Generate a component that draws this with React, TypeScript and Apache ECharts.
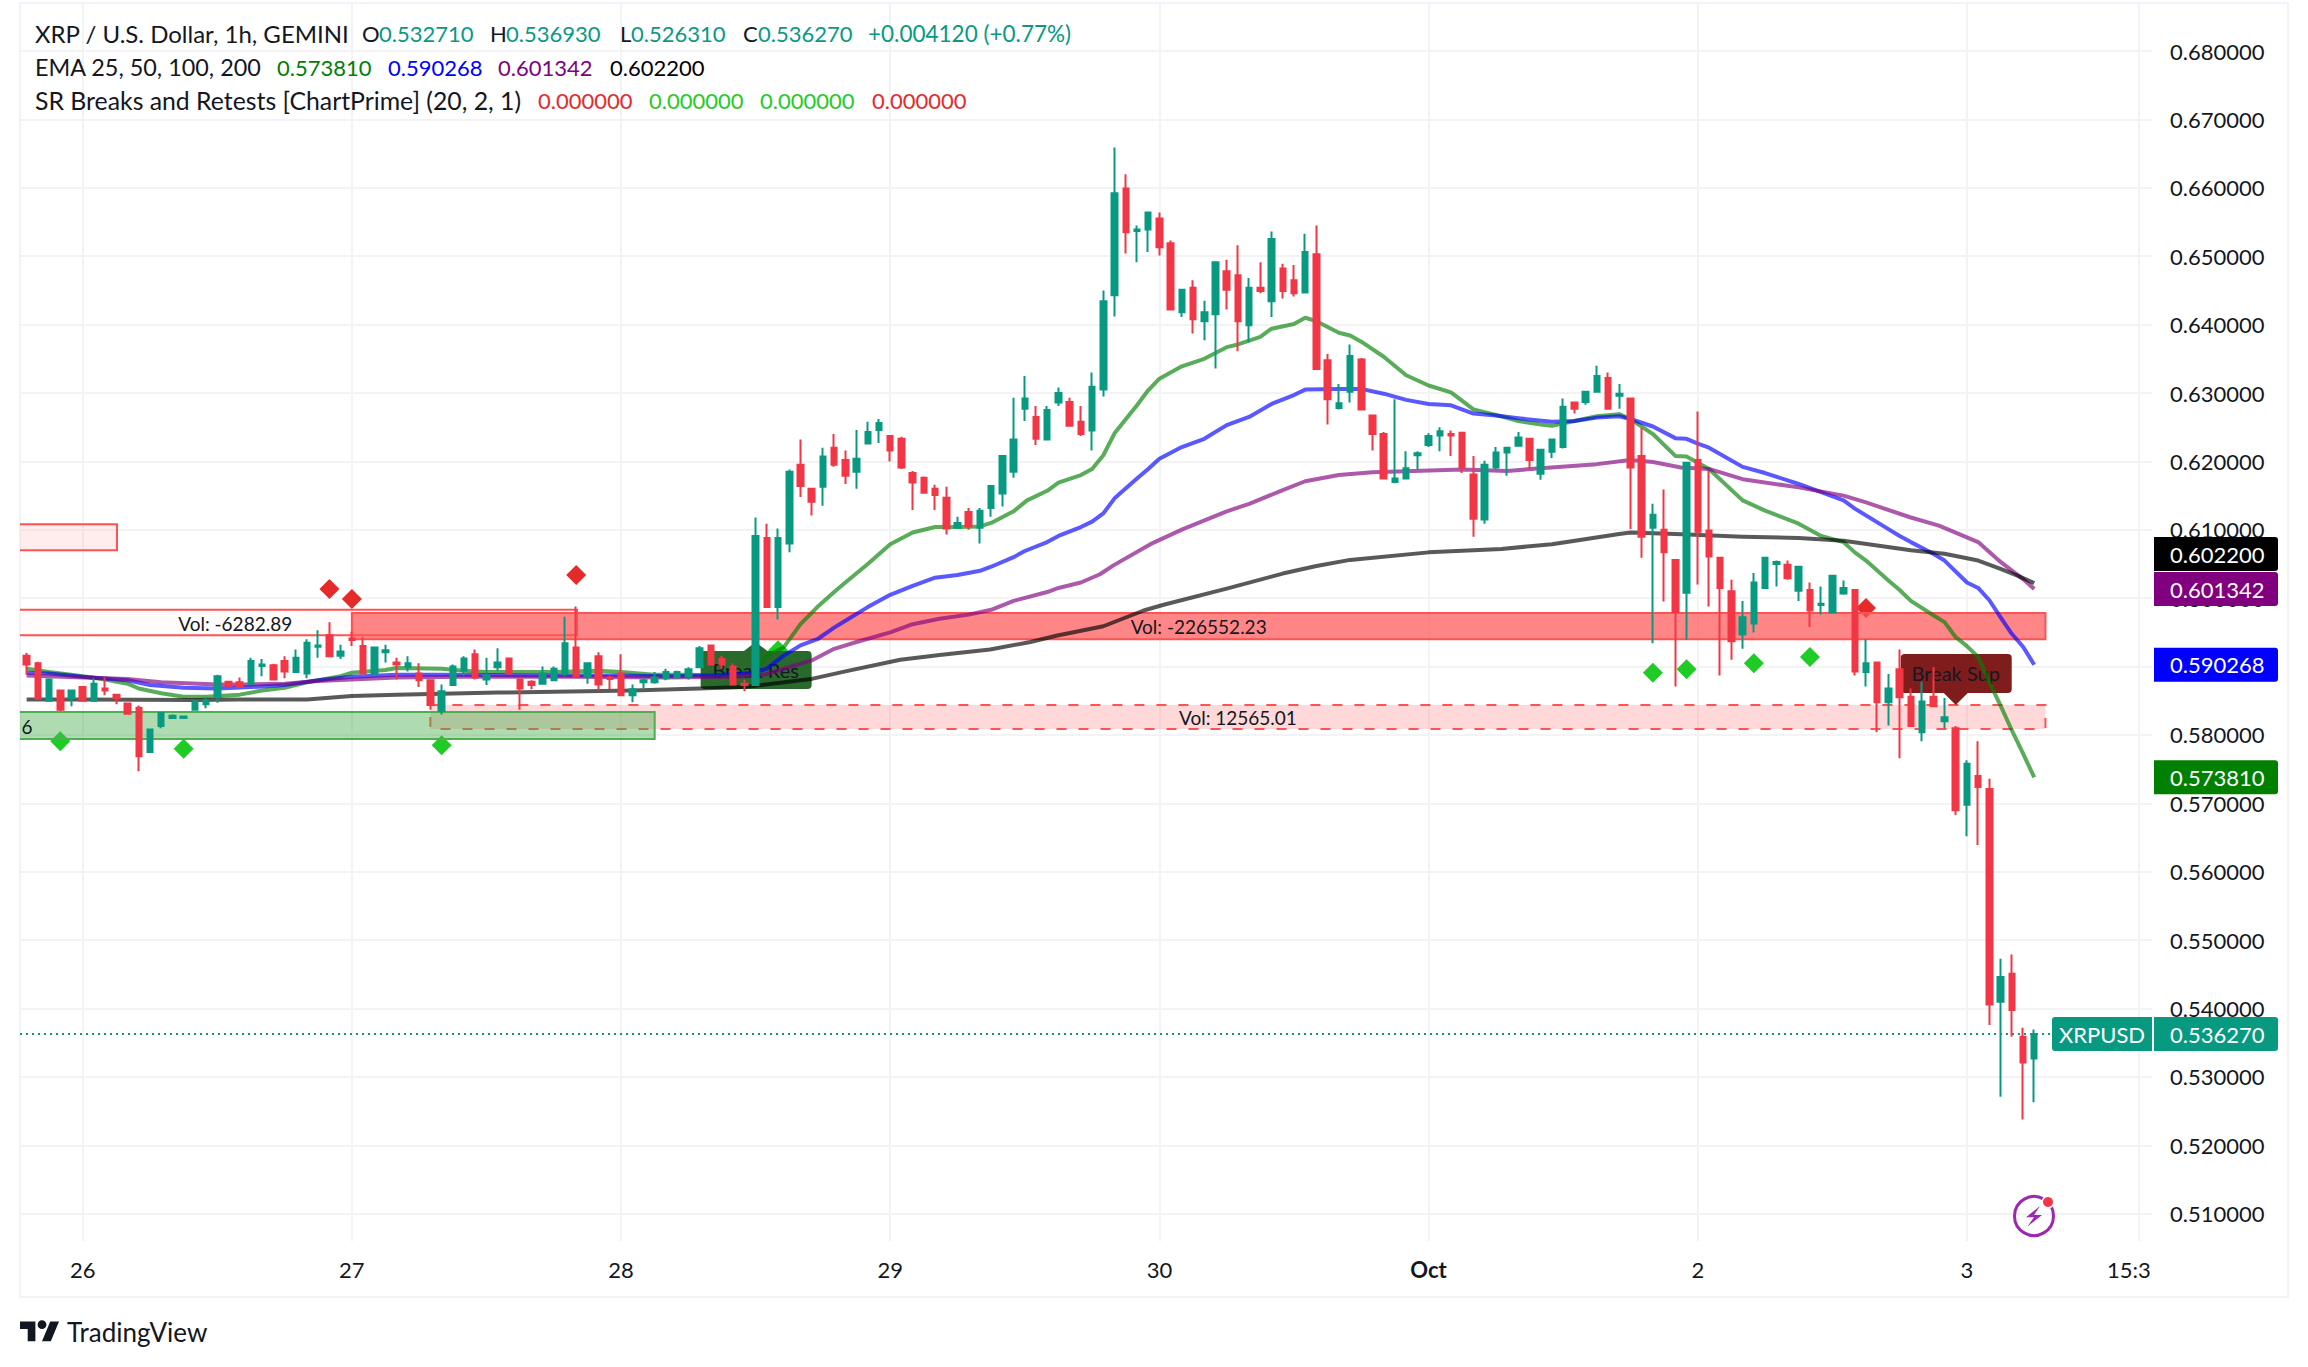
import React, { useEffect, useRef } from "react";
import * as echarts from "echarts";

const FONT = "Lato";
const INK = "#131722";
const UP = "#089981";
const DOWN = "#F23645";

const firstHour = -5;
const directions =
  "RRGRGRGRRR" + "RGGGGGGGRR" + "GGRRGGGRGR" + "RGGRGRRGGG" + "RGGRRRGGGR" + "GRRRGGGGGG" +
  "GRRRRGRGGR" + "RGRRGGGRRR" + "RRRGRGGGGG" + "RGGRRGGGRG" + "GRRGRGGRRG" + "RGRRGRRGGR" +
  "RRGGGGGRRR" + "GGGGRGGGRG" + "GRGRRGRRGR" + "RRRGGGGRGR" + "GGGRGRGRRG" + "RGRGRRGRRG";

const highs = [
  .5920,.5907,.5883,.5865,.5865,.5871,.5883,.5884,.5859,.5847,
  .5843,.5808,.5832,.5830,.5827,.5849,.5855,.5888,.5878,.5884,
  .5913,.5911,.5904,.5915,.5925,.5940,.5953,.5965,.5932,.5951,
  .5943,.5928,.5932,.5913,.5915,.5905,.5880,.5874,.5903,.5915,
  .5925,.5913,.5927,.5912,.5881,.5880,.5900,.5900,.5973,.5988,
  .5906,.5921,.5887,.5918,.5874,.5884,.5892,.5897,.5894,.5899,
  .5930,.5931,.5916,.5905,.5881,.6118,.6109,.6102,.6188,.6232,
  .6160,.6220,.6240,.6216,.6246,.6258,.6262,.6237,.6236,.6186,
  .6178,.6166,.6163,.6119,.6132,.6132,.6164,.6208,.6293,.6325,
  .6281,.6281,.6308,.6293,.6281,.6330,.6450,.6659,.6620,.6545,
  .6564,.6564,.6523,.6451,.6465,.6435,.6491,.6495,.6516,.6468,
  .6491,.6536,.6489,.6487,.6533,.6545,.6357,.6313,.6371,.6351,
  .6267,.6243,.6291,.6215,.6215,.6241,.6250,.6245,.6242,.6208,
  .6201,.6221,.6220,.6243,.6233,.6217,.6232,.6292,.6286,.6302,
  .6340,.6330,.6313,.6292,.6249,.6138,.6159,.6056,.6198,.6273,
  .6186,.6059,.6027,.5996,.6037,.6059,.6055,.6055,.6046,.6023,
  .6017,.6033,.6026,.6012,.5940,.5906,.5889,.5925,.5868,.5878,
  .5899,.5854,.5813,.5763,.5791,.5736,.5473,.5479,.5372,.53693,
];
const bodyTops = [
  .5916,.5905,.5881,.5865,.5865,.5870,.5875,.5868,.5859,.5846,
  .5840,.5808,.5832,.5828,.5827,.5849,.5850,.5886,.5878,.5877,
  .5908,.5903,.5902,.5908,.5913,.5935,.5931,.5946,.5922,.5941,
  .5930,.5928,.5924,.5906,.5905,.5890,.5880,.5864,.5900,.5912,
  .5918,.5887,.5906,.5912,.5881,.5878,.5890,.5897,.5934,.5928,
  .5905,.5915,.5884,.5890,.5867,.5880,.5884,.5892,.5892,.5896,
  .5927,.5931,.5911,.5900,.5875,.6091,.6088,.6088,.6185,.6195,
  .6160,.6207,.6220,.6202,.6204,.6243,.6256,.6237,.6233,.6183,
  .6176,.6160,.6147,.6110,.6126,.6128,.6164,.6208,.6232,.6292,
  .6265,.6275,.6300,.6287,.6258,.6309,.6434,.6592,.6599,.6539,
  .6564,.6555,.6519,.6451,.6454,.6418,.6491,.6478,.6472,.6454,
  .6454,.6525,.6482,.6465,.6506,.6503,.6348,.6285,.6354,.6349,
  .6267,.6240,.6175,.6190,.6212,.6237,.6244,.6240,.6242,.6181,
  .6195,.6213,.6220,.6235,.6233,.6217,.6232,.6280,.6286,.6302,
  .6325,.6322,.6299,.6292,.6208,.6122,.6100,.6056,.6198,.6202,
  .6099,.6059,.6010,.5972,.6023,.6059,.6053,.6049,.6046,.6012,
  .5992,.6033,.6015,.6012,.5905,.5906,.5868,.5896,.5856,.5849,
  .5856,.5826,.5810,.5758,.5740,.5721,.5446,.5451,.5359,.53627,
];
const bodyBottoms = [
  .5903,.5853,.5850,.5837,.5854,.5850,.5850,.5865,.5854,.5831,
  .5769,.5775,.5813,.5825,.5825,.5837,.5845,.5856,.5872,.5870,
  .5875,.5901,.5881,.5893,.5892,.5890,.5929,.5915,.5916,.5939,
  .5890,.5890,.5921,.5903,.5899,.5880,.5844,.5835,.5873,.5894,
  .5884,.5881,.5899,.5890,.5868,.5873,.5875,.5880,.5889,.5886,
  .5886,.5874,.5882,.5858,.5858,.5877,.5877,.5883,.5884,.5886,
  .5899,.5903,.5903,.5874,.5873,.5873,.5987,.5987,.6080,.6164,
  .6141,.6163,.6195,.6179,.6185,.6226,.6246,.6216,.6191,.6169,
  .6154,.6151,.6102,.6103,.6105,.6103,.6132,.6153,.6185,.6277,
  .6233,.6232,.6286,.6252,.6240,.6245,.6305,.6443,.6535,.6537,
  .6539,.6513,.6422,.6418,.6408,.6405,.6415,.6451,.6405,.6399,
  .6449,.6434,.6449,.6446,.6447,.6335,.6291,.6278,.6302,.6276,
  .6240,.6175,.6170,.6175,.6209,.6224,.6238,.6238,.6191,.6116,
  .6115,.6191,.6213,.6223,.6202,.6182,.6214,.6221,.6277,.6287,
  .6302,.6277,.6296,.6191,.6090,.6103,.6067,.5980,.6008,.6097,
  .6061,.6015,.5937,.5947,.5963,.6015,.6050,.6029,.6011,.5982,
  .5990,.5979,.6007,.5893,.5892,.5848,.5848,.5855,.5813,.5804,
  .5842,.5820,.5690,.5698,.5724,.5406,.5410,.5398,.5321,.53271,
];
const lows = [
  .5888,.5853,.5850,.5835,.5842,.5850,.5850,.5858,.5845,.5831,
  .5747,.5774,.5810,.5824,.5825,.5837,.5839,.5847,.5872,.5870,
  .5875,.5886,.5881,.5883,.5892,.5883,.5913,.5915,.5911,.5930,
  .5890,.5888,.5906,.5881,.5893,.5870,.5837,.5830,.5873,.5887,
  .5881,.5873,.5894,.5889,.5837,.5867,.5875,.5880,.5886,.5886,
  .5875,.5865,.5867,.5858,.5848,.5868,.5875,.5880,.5884,.5881,
  .5899,.5903,.5897,.5874,.5864,.5873,.5987,.5969,.6067,.6148,
  .6121,.6135,.6192,.6167,.6160,.6226,.6227,.6200,.6189,.6129,
  .6154,.6129,.6093,.6102,.6100,.6080,.6119,.6134,.6176,.6259,
  .6224,.6232,.6281,.6252,.6237,.6216,.6295,.6412,.6504,.6491,
  .6506,.6501,.6422,.6411,.6387,.6377,.6336,.6422,.6361,.6374,
  .6446,.6411,.6438,.6441,.6447,.6335,.6254,.6276,.6286,.6276,
  .6216,.6175,.6168,.6175,.6188,.6221,.6215,.6208,.6183,.6090,
  .6109,.6188,.6179,.6223,.6188,.6173,.6205,.6219,.6270,.6283,
  .6302,.6277,.6277,.6101,.6059,.5934,.5995,.5871,.5939,.6020,
  .5988,.5887,.5910,.5926,.5950,.6015,.6017,.6027,.5996,.5958,
  .5976,.5979,.6005,.5887,.5871,.5804,.5814,.5766,.5813,.5791,
  .5842,.5810,.5683,.5652,.5639,.5376,.5271,.5359,.5238,.52631,
];

const ema25Hours = [-5,-3,0,2,4,5,7,9,11,14,16,18,20,23,24,27,28,32,34,36,42,46,48,51,54,57,59,60,61,62.5,64,65.5,67,68,70,72,74,76,78.2,80,81,83,84.2,86,87,89,90,91,92,94,95,96,98,100,102,103,105,106,108,109,110,112,113,114,116,118,120,122,124,126,128,130,131,133,135,137,138,140,142,143,145,148,150,153,155,157,158,159,161,162,163,165,166,167,168,169,170,171,172,173,174];
const ema25Values = [.5897,.5892,.5886,.5881,.5875,.5868,.5861,.5856,.5856,.5859,.5865,.5869,.5877,.5886,.5891,.5895,.5898,.5897,.5894,.5892,.5892,.5894,.5892,.5888,.5888,.5887,.5887,.5893,.5916,.5928,.5962,.5987,.6009,.6023,.6050,.6079,.6096,.6104,.6104,.6105,.6110,.6127,.6143,.6157,.6169,.6180,.6189,.6209,.6241,.6282,.6304,.6321,.6339,.6350,.6367,.6371,.6382,.6394,.6401,.6410,.6405,.6388,.6384,.6375,.6353,.6326,.6311,.6301,.6276,.6268,.6259,.6254,.6252,.6259,.6266,.6269,.6262,.6240,.6208,.6207,.6189,.6143,.6128,.6109,.6091,.6082,.6067,.6055,.6026,.6012,.5996,.5975,.5965,.5943,.5930,.5914,.5877,.5843,.5807,.5773,.57381];

const ema50Hours = [-5,-3,0,4,6,9,12,15,18,21,24,28,32,40,48,52,56,59,60,61,62.5,64,65.5,67,68,70,72,74,76,78,80,81,83,84,86,87,89,90,91,92,94,95,96,98,100,102,104,106,108,109,112,114,116,118,120,122,124,126,128,131,133,135,137,138,140,142,143,144,145,148,150,153,155,157,158,161,162,163,165,166,168,169,170,171,172,173,174];
const ema50Values = [.5891,.5890,.5885,.5880,.5873,.5869,.5868,.5870,.5873,.5880,.5885,.5888,.5888,.5887,.5887,.5886,.5887,.5890,.5892,.5897,.5916,.5931,.5940,.5957,.5967,.5987,.6005,.6018,.6030,.6034,.6040,.6046,.6060,.6069,.6082,.6091,.6104,.6112,.6124,.6146,.6175,.6189,.6204,.6221,.6233,.6253,.6265,.6284,.6297,.6305,.6306,.6306,.6299,.6290,.6284,.6282,.6270,.6267,.6263,.6258,.6259,.6264,.6266,.6262,.6251,.6234,.6233,.6226,.6220,.6192,.6183,.6167,.6155,.6143,.6131,.6101,.6091,.6082,.6065,.6055,.6023,.6015,.5997,.5972,.5948,.5929,.590268];

const ema100Hours = [-5,0,4,7,12,15,18,21,24,28,34,44,52,58,60,61,62.5,65,67,69,72,74,76.4,79,81,83,86,87,89,90.7,91.9,95.2,98.1,102,104,107,109,112,115,123,127,130,135,138,140,142.5,145,148,153,157,159,163,165.5,169,171,173,174];
const ema100Values = [.5887,.5884,.5882,.5877,.5874,.5874,.5875,.5879,.5881,.5884,.5885,.5885,.5884,.5885,.5887,.5889,.5897,.5909,.5926,.5936,.5950,.5962,.5970,.5976,.5983,.5996,.6009,.6015,.6023,.6035,.6048,.6079,.6101,.6127,.6138,.6158,.6171,.6180,.6184,.6188,.6186,.6190,.6196,.6202,.6199,.6191,.6189,.6174,.6162,.6150,.6140,.6118,.6106,.6082,.6053,.6028,.601342];

const ema200Hours = [-5,0,10,14,20,24,28,37,49,55,59,64,65,68,72.9,76.4,80.9,84.5,86.8,91,94.6,96.3,102,107,110,113,120,126.5,131,137,138,142,148,153,157,163,166,169,171,172.5,174];
const ema200Values = [.5852,.5852,.5851,.5852,.5852,.5857,.5859,.5862,.5865,.5868,.5870,.5880,.5882,.5893,.5910,.5917,.5925,.5936,.5945,.5959,.5982,.5990,.6014,.6036,.6047,.6056,.6067,.6072,.6079,.6094,.6096,.6094,.6090,.6088,.6084,.6070,.6065,.6055,.6043,.6033,.6022];

const redDiamondHours = [22, 24, 44, 159];
const redDiamondPrices = [.60135, .5999, .60339, .59857];
const greenDiamondHours = [-2, 9, 32, 62, 140, 143, 149, 154];
const greenDiamondPrices = [.5791, .5780, .5785, .5924, .5891, .5896, .5905, .5914];

const zoneStarts = [-20, -20, 24, 31, -20];
const zoneEnds = [3.06, 44.07, 175, 175, 51];
const zoneTops = [.6108, .5983, .59784, .58439, .58336];
const zoneBottoms = [.6070, .5946, .5940, .58088, .5794];
const zoneFills = ["rgba(255,82,82,0.1)", "rgba(255,245,240,0.25)", "rgba(255,82,82,0.7)", "rgba(255,82,82,0.22)", "rgba(76,175,80,0.45)"];
const zoneStrokes = ["#ff5252", "#ff5252", "#ff5252", "#ff5252", "#4caf50"];
const zoneDashed = [false, false, false, true, false];

const noteTexts = ["Vol: -6282.89", "Vol: -226552.23", "Vol: 12565.01", "6"];
const noteHours = [13.6, 99.5, 103, -4.97];
const notePrices = [.59637, .59579, .58263, .5812];

const breakTexts = ["Break Res", "Break Sup"];
const breakHours = [60, 167];
const breakPrices = [.5936, .58439];
const breakColors = ["#2a692c", "#7f1d1d"];

const priceTagTexts = ["0.602200", "0.601342", "0.590268", "0.573810", "0.536270"];
const priceTagPositions = [.60646, .601342, .590268, .57381, .53627];
const priceTagColors = ["#000000", "#800080", "#0000ff", "#008000", UP];
const lastPrice = 0.53627;

const priceTicks = [.51,.52,.53,.54,.55,.56,.57,.58,.59,.60,.61,.62,.63,.64,.65,.66,.67,.68];
const timeTickHours = [0, 24, 48, 72, 96, 120, 144, 168, 183.3];
const timeTickLabels = ["26", "27", "28", "29", "30", "{b|Oct}", "2", "3", ""];

const legendRows: [string, number, number, string, number][] = [
  ["XRP / U.S. Dollar, 1h, GEMINI", 35, 33.5, INK, 24],
  ["O", 362, 33.5, INK, 22], ["0.532710", 379, 33.5, UP, 22],
  ["H", 490, 33.5, INK, 22], ["0.536930", 506, 33.5, UP, 22],
  ["L", 620, 33.5, INK, 22], ["0.526310", 631, 33.5, UP, 22],
  ["C", 743, 33.5, INK, 22], ["0.536270", 758, 33.5, UP, 22],
  ["+0.004120 (+0.77%)", 868, 33.5, UP, 22.5],
  ["EMA 25, 50, 100, 200", 35, 67, INK, 23.4],
  ["0.573810", 277, 67, "#008000", 22], ["0.590268", 388, 67, "#0000ff", 22],
  ["0.601342", 498, 67, "#800080", 22], ["0.602200", 610, 67, "#000000", 22],
  ["SR Breaks and Retests [ChartPrime] (20, 2, 1)", 35, 100.5, INK, 24.8],
  ["0.000000", 538, 100.5, "#e52a2a", 22], ["0.000000", 649, 100.5, "#1fcc26", 22],
  ["0.000000", 760, 100.5, "#1fcc26", 22], ["0.000000", 872, 100.5, "#e52a2a", 22],
];

const logoPath =
  "M14 22H7V11H0V4h14v18zM28 22h-8l7.5-18h8L28 22zM16 7a4 4 0 1 0 8 0a4 4 0 1 0 -8 0z";
echarts.graphic.registerShape("tvlogo", echarts.graphic.extendPath(logoPath as any, {}) as any);

const xMin = -5.59;
const xMax = 184.5;
const yMin = 0.50602;
const yMax = 0.68702;

const zip2 = (a: number[], b: number[]) => a.map((v, i) => [v, b[i]]);

function buildOption(): any {
  const candles = highs.map((hi, i) => {
    const up = directions[i] === "G";
    return [firstHour + i, up ? bodyBottoms[i] : bodyTops[i], up ? bodyTops[i] : bodyBottoms[i], lows[i], hi];
  });
  const emaLine = (name: string, hours: number[], values: number[], color: string) => ({
    type: "line", name, data: zip2(hours, values), showSymbol: false, z: 4, silent: true,
    lineStyle: { color, width: 4, opacity: 0.65, join: "round" }, itemStyle: { color },
  });
  return {
    animation: false,
    backgroundColor: "#ffffff",
    grid: { left: 20, right: 156, top: 3, bottom: 126 },
    xAxis: {
      type: "value", min: xMin, max: xMax,
      axisLine: { show: false },
      axisTick: { show: false, customValues: timeTickHours },
      splitLine: { show: true, lineStyle: { color: "#f3f3f5", width: 2 } },
      axisLabel: {
        customValues: timeTickHours, color: INK, fontFamily: FONT, fontSize: 22, margin: 17,
        showMinLabel: true, showMaxLabel: true, hideOverlap: false,
        formatter: (v: number) => timeTickLabels[timeTickHours.indexOf(v)] ?? "",
        rich: { b: { fontWeight: "bold", fontFamily: FONT, fontSize: 22, color: INK } },
      },
    },
    yAxis: {
      type: "value", position: "right", min: yMin, max: yMax, scale: true,
      axisLine: { show: false },
      axisTick: { show: false, customValues: priceTicks },
      splitLine: { show: true, lineStyle: { color: "#f3f3f5", width: 2 } },
      axisLabel: {
        customValues: priceTicks, color: INK, fontFamily: FONT, fontSize: 22, margin: 18,
        padding: [0, 0, 2, 0],
        formatter: (v: number) => v.toFixed(6),
      },
    },
    graphic: [
      { type: "rect", z: 0, shape: { x: 20, y: 3, width: 2268, height: 1294 }, style: { fill: "none", stroke: "#f0f3fa", lineWidth: 2 } },
      ...legendRows.map(([text, x, y, fill, size]) => ({
        type: "text", z: 10, style: { text, x, y, fill, font: `${size}px ${FONT}`, verticalAlign: "middle", align: "left" },
      })),
      { type: "text", z: 10, style: { text: "15:3", x: 2107, y: 1269, fill: INK, font: `22px ${FONT}`, verticalAlign: "middle", align: "left" } },
      { type: "tvlogo", z: 10, x: 20, y: 1317, scaleX: 1.1, scaleY: 1.1, style: { fill: INK } },
      { type: "text", z: 10, style: { text: "TradingView", x: 67, y: 1332, fill: INK, font: `26px ${FONT}`, verticalAlign: "middle", align: "left" } },
      { type: "circle", z: 10, shape: { cx: 2034, cy: 1216, r: 19.5 }, style: { fill: "none", stroke: "#9c27b0", lineWidth: 3 } },
      { type: "circle", z: 11, shape: { cx: 2048, cy: 1202, r: 6.5 }, style: { fill: "#ffffff" } },
      { type: "circle", z: 12, shape: { cx: 2048, cy: 1202, r: 5 }, style: { fill: DOWN } },
      { type: "polygon", z: 11, shape: { points: [[2040, 1206], [2026, 1217.3], [2034, 1217.3], [2027.3, 1226.7], [2042, 1215], [2034, 1215]] }, style: { fill: "#9c27b0" } },
    ],
    series: [
      {
        type: "scatter", name: "Red markers", z: 1, symbol: "diamond", symbolSize: 20, silent: true,
        itemStyle: { color: "#e52a2a", opacity: 1 }, data: zip2(redDiamondHours, redDiamondPrices),
      },
      {
        type: "scatter", name: "Green markers", z: 1, symbol: "diamond", symbolSize: 20, silent: true,
        itemStyle: { color: "#1fcc26", opacity: 1 }, data: zip2(greenDiamondHours, greenDiamondPrices),
      },
      {
        type: "custom", name: "Zones", z: 2, clip: true, silent: true,
        encode: { x: [0, 1], y: [2, 3] },
        data: zoneStarts.map((s, i) => [s, zoneEnds[i], zoneTops[i], zoneBottoms[i]]),
        renderItem: (params: any, api: any) => {
          const a = api.coord([api.value(0), api.value(2)]);
          const b = api.coord([api.value(1), api.value(3)]);
          const i = params.dataIndex;
          return {
            type: "rect",
            shape: { x: a[0], y: a[1], width: b[0] - a[0], height: b[1] - a[1] },
            style: {
              fill: zoneFills[i], stroke: zoneStrokes[i], lineWidth: 2,
              lineDash: zoneDashed[i] ? [10, 12] : undefined,
            },
          };
        },
      },
      {
        type: "custom", name: "Break labels", z: 3, silent: true,
        encode: { x: 0, y: 1 },
        data: zip2(breakHours, breakPrices),
        renderItem: (params: any, api: any) => {
          const [x, y] = api.coord([api.value(0), api.value(1)]);
          const i = params.dataIndex;
          const up = i === 0;
          const boxY = up ? y + 9 : y - 51;
          const boxH = up ? 38 : 39;
          const baseY = up ? y + 10 : y - 13;
          return {
            type: "group",
            children: [
              { type: "rect", shape: { x: x - 55, y: boxY, width: 111, height: boxH, r: 4 }, style: { fill: breakColors[i] } },
              { type: "polygon", shape: { points: [[x, y], [x - 13, baseY], [x + 13, baseY]] }, style: { fill: breakColors[i] } },
              { type: "text", style: { text: breakTexts[i], x, y: boxY + boxH / 2, fill: INK, font: `20px ${FONT}`, align: "center", verticalAlign: "middle" } },
            ],
          };
        },
      },
      {
        type: "custom", name: "Volume notes", z: 3, silent: true,
        encode: { x: 0, y: 1 },
        data: zip2(noteHours, notePrices),
        renderItem: (params: any, api: any) => {
          const [x, y] = api.coord([api.value(0), api.value(1)]);
          return {
            type: "text",
            style: { text: noteTexts[params.dataIndex], x, y, fill: INK, font: `19px ${FONT}`, align: "center", verticalAlign: "middle" },
          };
        },
      },
      emaLine("EMA 25", ema25Hours, ema25Values, "#008000"),
      emaLine("EMA 50", ema50Hours, ema50Values, "#0000ff"),
      emaLine("EMA 100", ema100Hours, ema100Values, "#800080"),
      emaLine("EMA 200", ema200Hours, ema200Values, "#000000"),
      {
        type: "line", name: "Last price", z: 4, showSymbol: false, silent: true,
        data: [[xMin, lastPrice], [175.6, lastPrice]],
        lineStyle: { color: UP, width: 2, type: [2, 4] },
      },
      {
        type: "candlestick", name: "XRPUSD", z: 5, barWidth: 6, silent: true,
        data: candles,
        itemStyle: { color: UP, color0: DOWN, borderColor: UP, borderColor0: DOWN, borderWidth: 2 },
      },
      {
        type: "custom", name: "Price tags", z: 6, silent: true, clip: false,
        encode: { y: 1 },
        data: priceTagPositions.map((p) => [0, p]),
        renderItem: (params: any, api: any) => {
          const i = params.dataIndex;
          const y = api.coord([0, api.value(1)])[1];
          const tag: any[] = [
            { type: "rect", shape: { x: 2154, y: y - 17, width: 124, height: 34, r: [0, 3, 3, 0] }, style: { fill: priceTagColors[i] } },
            { type: "text", style: { text: priceTagTexts[i], x: 2170, y, fill: "#ffffff", font: `22px ${FONT}`, align: "left", verticalAlign: "middle" } },
          ];
          if (i === priceTagTexts.length - 1) {
            tag.push(
              { type: "rect", shape: { x: 2052, y: y - 17, width: 100, height: 34, r: [3, 0, 0, 3] }, style: { fill: UP } },
              { type: "text", style: { text: "XRPUSD", x: 2102, y, fill: "#ffffff", font: `22px ${FONT}`, align: "center", verticalAlign: "middle" } },
            );
          }
          return { type: "group", children: tag };
        },
      },
    ],
  };
}

export default function App() {
  const ref = useRef<HTMLDivElement>(null);
  useEffect(() => {
    if (!ref.current) return;
    document.body.style.margin = "0";
    const chart = echarts.init(ref.current, undefined, { renderer: "svg" });
    chart.setOption(buildOption());
    return () => chart.dispose();
  }, []);
  return <div ref={ref} style={{ position: "absolute", left: 0, top: 0, width: 2308, height: 1367, background: "#fff" }} />;
}
